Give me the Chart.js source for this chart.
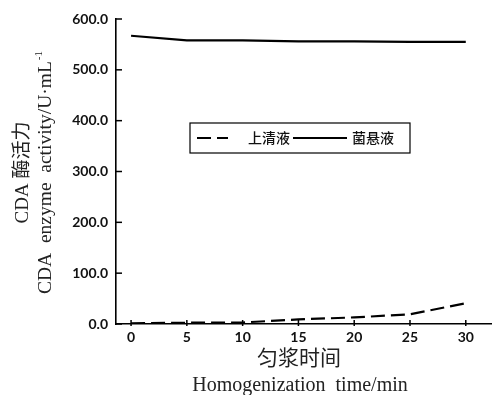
<!DOCTYPE html>
<html>
<head>
<meta charset="utf-8">
<style>
  html, body { margin: 0; padding: 0; background: #fff; }
  #wrap { width: 492px; height: 395px; position: relative; }
</style>
<script src="https://cdn.jsdelivr.net/npm/chart.js@4/dist/chart.umd.min.js"></script>
</head>
<body>
<div id="wrap"><canvas id="c" width="492" height="395"></canvas></div>
<script>
// Homogenization time (min)
const times = [0, 5, 10, 15, 20, 25, 30];
// CDA enzyme activity of the supernatant (U/mL)
const supernatant = [1.5, 2.5, 3, 9, 13, 19, 41];
// CDA enzyme activity of the cell suspension (U/mL)
const suspension = [567, 558, 558, 556, 556, 555, 555];
const yTicks = [0, 100, 200, 300, 400, 500, 600];
const xTicks = [0, 5, 10, 15, 20, 25, 30];
const seriesNames = ['上清液', '菌悬液'];
const yTitle = ['CDA 酶活力', 'CDA  enzyme  activity/U·mL'];
const xTitle = ['匀浆时间', 'Homogenization  time/min'];

const tickFont = { family: 'Lato, "Open Sans", sans-serif', size: 14, weight: 'bold' };
const serif = '"Liberation Serif", "Noto Sans CJK SC", serif';

// axis titles, tick marks and the boxed legend
const decor = {
  id: 'decor',
  afterDraw(chart) {
    const ctx = chart.ctx;
    const xs = chart.scales.x, ys = chart.scales.y;
    const area = chart.chartArea;
    ctx.save();
    ctx.strokeStyle = '#000';
    ctx.lineWidth = 1.5;
    // y ticks pointing into the plot
    ys.ticks.forEach(t => {
      const py = ys.getPixelForValue(t.value);
      ctx.beginPath();
      ctx.moveTo(xs.left, py);
      ctx.lineTo(xs.left + 6, py);
      ctx.stroke();
    });
    // x ticks crossing the axis
    xs.ticks.forEach(t => {
      const px = xs.getPixelForValue(t.value);
      ctx.beginPath();
      ctx.moveTo(px, ys.bottom - 4);
      ctx.lineTo(px, ys.bottom + 2);
      ctx.stroke();
    });

    // y axis title: two rotated lines centred on the plot height
    const midY = (area.top + area.bottom) / 2 + 1;
    ctx.fillStyle = '#222';
    ctx.textBaseline = 'middle';
    ctx.textAlign = 'center';
    ctx.save();
    ctx.translate(23, midY);
    ctx.rotate(-Math.PI / 2);
    ctx.font = '19px ' + serif;
    ctx.fillText(yTitle[0], 0, 0);
    ctx.restore();
    ctx.save();
    ctx.translate(46, midY);
    ctx.rotate(-Math.PI / 2);
    ctx.font = '19.5px ' + serif;
    const w = ctx.measureText(yTitle[1]).width;
    ctx.font = '11px ' + serif;
    const sw = ctx.measureText('-1').width + 1;
    const start = -(w + sw) / 2;
    ctx.textAlign = 'left';
    ctx.font = '19.5px ' + serif;
    ctx.fillText(yTitle[1], start, 0);
    ctx.font = '11px ' + serif;
    ctx.fillText('-1', start + w + 1, -7);
    ctx.restore();

    // x axis title
    ctx.textAlign = 'center';
    ctx.textBaseline = 'middle';
    ctx.font = '21px ' + serif;
    ctx.fillText(xTitle[0], 299, 359);
    ctx.font = '20px ' + serif;
    ctx.fillText(xTitle[1], 300, 386);

    // legend box
    const bx = 190, by = 123, bw = 220, bh = 30, cy = by + bh / 2;
    ctx.fillStyle = '#fff';
    ctx.fillRect(bx, by, bw, bh);
    ctx.lineWidth = 1.2;
    ctx.strokeStyle = '#000';
    ctx.strokeRect(bx, by, bw, bh);
    const ds = chart.data.datasets;
    ctx.lineWidth = 2.2;
    ctx.setLineDash(ds[0].borderDash);
    ctx.beginPath(); ctx.moveTo(197, cy); ctx.lineTo(228, cy); ctx.stroke();
    ctx.setLineDash([]);
    ctx.beginPath(); ctx.moveTo(293, cy); ctx.lineTo(347, cy); ctx.stroke();
    ctx.fillStyle = '#111';
    ctx.textAlign = 'left';
    ctx.font = '500 14px "Noto Sans CJK SC", sans-serif';
    ctx.fillText(ds[0].label, 248, cy);
    ctx.fillText(ds[1].label, 352, cy);
    ctx.restore();
  }
};

new Chart(document.getElementById('c'), {
  type: 'line',
  data: {
    datasets: [
      {
        label: seriesNames[0],
        data: times.map((t, i) => ({ x: t, y: supernatant[i] })),
        borderColor: '#000',
        borderWidth: 2.2,
        borderDash: [14, 6],
        pointRadius: 0,
        tension: 0,
        fill: false
      },
      {
        label: seriesNames[1],
        data: times.map((t, i) => ({ x: t, y: suspension[i] })),
        borderColor: '#000',
        borderWidth: 2.2,
        pointRadius: 0,
        tension: 0,
        fill: false
      }
    ]
  },
  options: {
    responsive: false,
    animation: false,
    layout: { padding: { left: 0, right: 0, top: 19, bottom: 0 } },
    plugins: { legend: { display: false }, tooltip: { enabled: false } },
    scales: {
      x: {
        type: 'linear',
        min: -1.35,
        max: 32.35,
        afterBuildTicks: s => { s.ticks = xTicks.map(v => ({ value: v })); },
        afterFit: s => { s.height = 71; s.paddingLeft = 0; s.paddingRight = 0; },
        grid: { display: false, drawTicks: false },
        border: { display: true, color: '#000', width: 1.6 },
        ticks: { color: '#111', font: tickFont, padding: 5, maxRotation: 0, autoSkip: false }
      },
      y: {
        type: 'linear',
        min: 0,
        max: 600,
        afterBuildTicks: s => { s.ticks = yTicks.map(v => ({ value: v })); },
        afterFit: s => { s.width = 116; s.paddingTop = 0; s.paddingBottom = 0; },
        grid: { display: false, drawTicks: false },
        border: { display: true, color: '#000', width: 1.6 },
        ticks: { color: '#111', font: tickFont, padding: 8, callback: v => Number(v).toFixed(1) }
      }
    }
  },
  plugins: [decor]
});
</script>
</body>
</html>
